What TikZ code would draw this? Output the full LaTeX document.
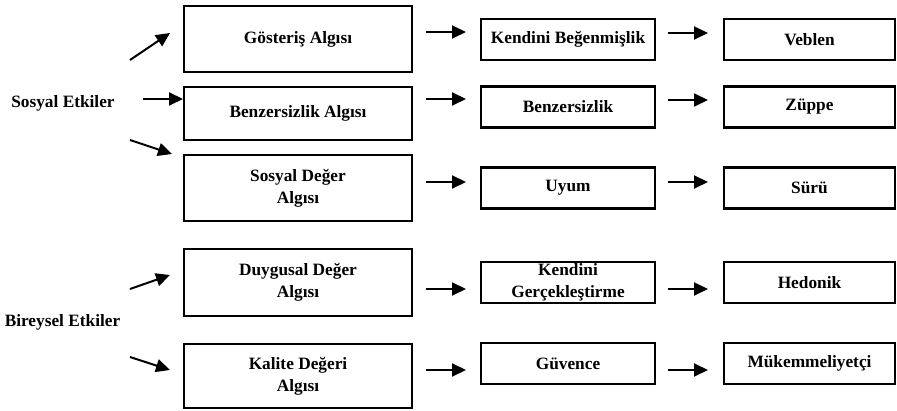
\documentclass[tikz,border=0pt]{standalone}
\usepackage{fontspec}
\setmainfont{Liberation Serif}
\usetikzlibrary{arrows.meta}
\begin{document}
\begin{tikzpicture}[x=1pt,y=-1pt,
  txt/.style={font=\bfseries\fontsize{17.3}{22}\selectfont},
  box/.style={txt, draw, line width=2.2pt, inner sep=1pt, align=center},
  percbox/.style={box, minimum width=228pt},
  midbox/.style={box, minimum width=174pt, minimum height=41pt},
  endbox/.style={box, minimum width=171pt, minimum height=41pt},
  arr/.style={line width=2pt, -{Triangle[length=14pt,width=13pt]}}]
\useasboundingbox (0,0) rectangle (897,411);

% influence groups
\node[txt, anchor=base] (se) at (63,108) {Sosyal Etkiler};
\node[txt, anchor=base] (be) at (62.5,327) {Bireysel Etkiler};

% perception boxes
\node[percbox, minimum height=66pt] (g)  at (298,39)    {Gösteriş Algısı};
\node[percbox, minimum height=53pt] (ba) at (298,113.5) {Benzersizlik Algısı};
\node[percbox, minimum height=66pt] (sd) at (298,188)   {Sosyal Değer\\Algısı};
\node[percbox, minimum height=67pt] (dd) at (298,282.5) {Duygusal Değer\\Algısı};
\node[percbox, minimum height=64pt] (kd) at (298,376)   {Kalite Değeri\\Algısı};

% motive boxes
\node[midbox] (m1) at (568,39.5)  {Kendini Beğenmişlik};
\node[midbox] (m2) at (568,107)   {Benzersizlik};
\node[midbox] (m3) at (568,188)   {Uyum};
\node[midbox] (m4) at (568,282.5) {Kendini\\Gerçekleştirme};
\node[midbox] (m5) at (568,363.5) {Güvence};

% consumer types
\node[endbox] (r1) at (809.5,39.5)  {Veblen};
\node[endbox] (r2) at (809.5,107)   {Züppe};
\node[endbox] (r3) at (809.5,188)   {Sürü};
\node[endbox] (r4) at (809.5,282.5) {Hedonik};
\node[endbox] (r5) at (809.5,363.5) {Mükemmeliyetçi};

% arrow end points
\coordinate (s1a) at (130,60);  \coordinate (s1b) at (170,33);
\coordinate (s2a) at (143,99);  \coordinate (s2b) at (183,99);
\coordinate (s3a) at (130,140); \coordinate (s3b) at (172,154);
\coordinate (b1a) at (130,289); \coordinate (b1b) at (170,275);
\coordinate (b2a) at (130,357); \coordinate (b2b) at (170,370);

\foreach \y [count=\i] in {32,99,182,289,370}{
  \coordinate (p\i) at (426,\y); \coordinate (q\i) at (466,\y);
}
\foreach \y [count=\i] in {33,100,182,289,370}{
  \coordinate (u\i) at (668,\y); \coordinate (v\i) at (708,\y);
}

\draw[arr] (s1a) -- (s1b);
\draw[arr] (s2a) -- (s2b);
\draw[arr] (s3a) -- (s3b);
\draw[arr] (b1a) -- (b1b);
\draw[arr] (b2a) -- (b2b);
\foreach \i in {1,...,5}{
  \draw[arr] (p\i) -- (q\i);
  \draw[arr] (u\i) -- (v\i);
}
\end{tikzpicture}
\end{document}
